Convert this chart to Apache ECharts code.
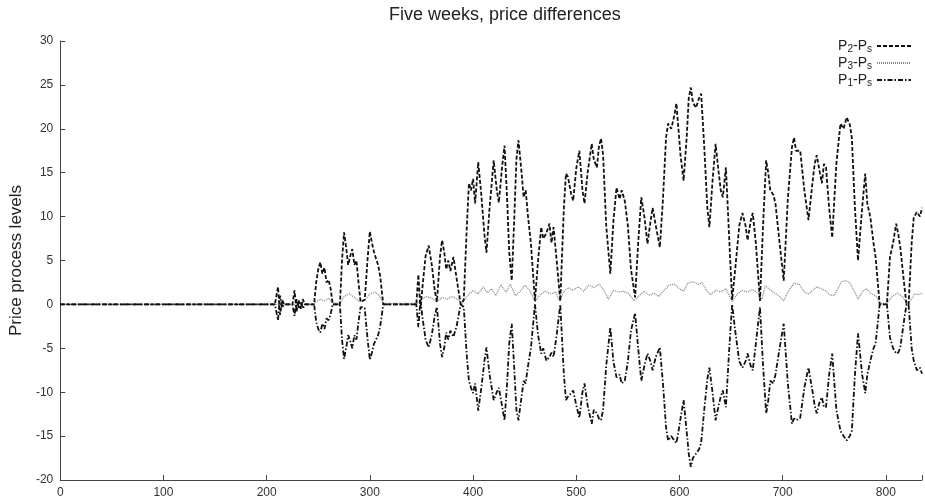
<!DOCTYPE html>
<html>
<head>
<meta charset="utf-8">
<script src="https://cdn.jsdelivr.net/npm/echarts@6/dist/echarts.min.js"></script>
<style>html,body{margin:0;padding:0;background:#fff}#c{width:925px;height:501px}</style>
</head>
<body>
<div id="c"></div>
<script>
// ---- data ----
var titleText = 'Five weeks, price differences';
var yAxisName = 'Price process levels';
var seriesNames = ['P2-Ps', 'P3-Ps', 'P1-Ps'];
var xTicks = [0, 100, 200, 300, 400, 500, 600, 700, 800];

// shared x positions for P2-Ps and P1-Ps
var xsMain = [0,208,211,213,215,217,225,227,229,231,233,235,237,246,248,250,252,254,256,258,260,262,264,271,273,275,277,279,281,283,285,287,289,291,295,298,300,302,304,306,308,310,313,345,347,349,351,354,357,360,363,365,368,370,372,374,376,378,381,384,388,391,394,396,398,400,402,405,408,411,413,416,420,423,425,428,430.5,433,435,437.5,440,442,444,447,449,451,453,456,460,463,466,468,471,474,476,478,481,484.5,488,490,492,495,497,500,503,506,508,511,515,517,520,522,524,526,529,533,536,539,542,544,547,550,553,557,560,563,566,569,572,574,577,581,584,587,589,592,595,597,599,601,604,607,609,611,613,616,619,621,624,627,629,632,635,638,640,642,645,648,651,654,658,661,664,666,669,671,674,678,681,684,686,688,691,693,697,701,705,709,711,713,717,721,725,729,731,733,736,738,740,742,745,748,752,756,759,762,765,767,770,773,777,780,782,785,788,790,794,801,804,807,810,812,814,818,820,822,825,827,830,833,835];
var p2 = [0,0,2.0,-1.2,0.5,0,0,1.6,-0.8,0.5,-0.5,0.6,0,0,2.5,4.0,4.8,3.5,4.2,2.5,2.8,1.8,0,0,5.0,8.2,6.5,4.5,5.5,6.3,4.5,5.0,2.5,0.3,0.5,5.5,8.3,7.0,6.0,5.2,4.5,3.2,0,0,3.4,-0.5,2.0,5.5,6.7,4.5,1.5,0.3,5.5,7.3,6.0,4.0,5.0,3.8,5.4,3.0,0,0.5,9.0,13.8,13.0,14.3,11.5,16.2,12.5,8.0,5.9,11.0,16.4,13.0,11.6,15.5,18.1,12.0,6.0,2.7,10.0,16.5,18.7,15.0,12.2,13.0,10.3,7.0,0.4,5.0,8.8,7.5,8.1,9.2,7.0,8.8,5.0,0.4,11.0,14.9,14.5,12.6,11.8,15.5,17.5,13.0,11.5,15.0,18.3,16.5,15.6,18.0,18.9,17.0,9.0,3.5,9.5,13.3,12.0,13.0,11.8,9.0,4.0,0.8,7.0,12.2,10.0,6.9,9.5,11.0,9.0,6.5,12.0,19.0,20.6,20.0,21.5,22.9,20.0,17.0,14.1,19.0,23.5,24.7,23.0,22.4,23.5,24.0,18.0,11.0,8.8,14.0,18.3,15.0,13.0,12.2,15.6,8.0,0.5,4.0,9.0,10.4,9.0,7.3,9.5,10.4,7.0,0.4,9.0,16.4,15.0,13.0,12.5,11.5,7.0,2.7,12.0,17.9,19.0,17.5,17.5,13.0,9.6,14.0,16.0,17.0,15.0,13.8,16.0,15.6,11.0,7.6,16.0,20.6,20.0,21.3,20.5,19.0,11.0,5.0,11.0,14.9,11.5,9.9,7.0,5.4,0,0,5.4,7.0,9.2,8.0,6.5,2.0,0,0,7.0,9.9,10.5,10.0,11.0];
var p1 = [0,0,-1.8,1.0,-0.4,0,0,-1.3,0.6,-0.4,0.3,-0.5,0,0,-2.0,-2.8,-3.2,-2.2,-2.8,-1.6,-1.8,-1.1,0,0,-4.0,-6.2,-5.0,-3.5,-4.2,-5.0,-3.5,-4.0,-2.0,-0.3,-0.4,-4.2,-6.3,-5.5,-4.5,-4.0,-3.5,-2.5,0,0,-2.6,0.5,-1.5,-4.0,-4.9,-3.5,-1.2,-0.3,-4.5,-6.0,-5.0,-3.2,-4.0,-3.0,-3.7,-2.5,0,-0.3,-6.0,-8.7,-9.5,-10.1,-9.0,-12.1,-9.5,-6.5,-4.9,-8.0,-10.9,-10.0,-9.5,-11.5,-13.2,-9.0,-4.5,-2.2,-7.5,-12.0,-13.2,-10.5,-8.7,-9.0,-7.2,-5.0,0,-3.5,-5.6,-5.0,-6.4,-6.0,-5.5,-6.0,-3.5,0,-8.0,-10.9,-10.5,-10.1,-9.8,-11.5,-12.9,-10.0,-9.0,-11.5,-13.6,-12.0,-12.4,-13.0,-13.2,-12.0,-7.0,-2.6,-6.5,-8.3,-8.0,-9.0,-8.7,-6.5,-3.0,-1.0,-5.0,-8.7,-7.0,-5.6,-6.5,-7.5,-6.0,-4.9,-9.0,-14.0,-15.5,-15.0,-15.5,-15.8,-14.5,-13.0,-10.9,-14.5,-17.0,-18.5,-17.5,-17.0,-16.5,-15.8,-12.0,-8.5,-7.2,-10.0,-13.2,-11.5,-10.5,-9.8,-11.7,-5.5,0,-3.0,-6.5,-7.2,-6.5,-5.6,-7.0,-7.5,-4.5,-0.3,-7.0,-12.4,-11.0,-8.7,-9.0,-8.0,-5.0,-2.2,-9.0,-13.6,-13.0,-13.2,-12.9,-9.5,-7.2,-10.0,-11.5,-12.4,-11.0,-10.6,-11.7,-11.7,-8.0,-5.6,-12.0,-14.4,-15.0,-15.5,-15.0,-14.4,-8.0,-3.3,-8.0,-10.1,-8.0,-6.4,-5.0,-4.5,0,0,-3.8,-5.0,-5.6,-5.5,-4.9,-1.5,0,0,-5.0,-6.4,-7.5,-7.2,-7.9];

// x positions and values for P3-Ps
var xsP3 = [0,245,248,252,256,260,264,271,275,280,285,290,296,300,305,310,313,345,350,355,360,365,370,375,380,385,389,395,400,405,410,414,418,422,427,432,436,441,446,450,455,460,465,470,475,480,484,488,492,497,502,507,512,517,522,527,531,536,541,546,551,556,561,566,571,575,580,585,590,595,600,604,608,613,618,622,626,630,635,640,645,651,656,661,666,671,676,680,683,690,696,701,706,711,716,721,725,733,741,746,750,757,761,765,769,773,777,781,786,791,794,801,806,811,816,820,823,828,832,835];
var p3 = [0,0,0.3,0.6,0.4,0.7,0.2,0.1,0.9,1.2,0.8,0.3,0.6,1.2,1.4,0.9,0.1,0.1,0.6,0.9,0.7,0.3,0.8,0.6,0.9,0.6,0.1,1.0,1.6,1.2,2.0,1.3,1.8,1.0,2.2,1.4,2.3,1.0,1.5,2.2,1.6,0.3,1.1,1.5,1.2,1.4,0.4,1.5,1.9,1.6,2.0,1.5,2.2,1.9,2.3,1.6,0.6,1.6,1.4,1.5,1.2,0.4,1.0,1.5,1.0,1.3,0.9,1.6,2.2,2.3,1.8,1.5,2.4,2.6,2.3,2.5,1.6,1.1,1.6,1.4,1.8,0.3,1.2,1.6,1.4,1.7,1.3,0.6,2.1,1.5,1.0,0.4,1.6,2.4,2.3,1.4,1.2,2.0,1.6,1.1,1.0,2.6,2.7,2.5,1.6,0.6,1.4,1.8,1.2,0.9,0.1,0.1,0.9,1.3,0.9,0.2,0.3,1.2,1.1,1.3];

function pairs(xs, ys) { var o = []; for (var i = 0; i < xs.length; i++) o.push([xs[i], ys[i]]); return o; }

var chart = echarts.init(document.getElementById('c'), null, { renderer: 'canvas' });
var font = 'Liberation Sans, Arial, sans-serif';
var legendRich = {
  m: { fontSize: 14, fontFamily: font, color: '#222', lineHeight: 12 },
  s: { fontSize: 10, fontFamily: font, color: '#222', padding: [6, 0, 0, 0], lineHeight: 12 }
};
function legendFmt(name) {
  var p = name.split('-');
  return '{m|P}{s|' + p[0].slice(1) + '}{m|-P}{s|' + p[1].slice(1) + '}';
}
chart.setOption({
  animation: false,
  backgroundColor: '#fff',
  title: {
    text: titleText, left: 384, top: 1,
    textStyle: { fontSize: 18, fontWeight: 'normal', color: '#222', fontFamily: font }
  },
  legend: {
    orient: 'vertical', right: 8, top: 33, align: 'right',
    itemWidth: 34, itemHeight: 11, itemGap: 1,
    formatter: legendFmt,
    itemStyle: { opacity: 0 },
    textStyle: { rich: legendRich },
    data: seriesNames
  },
  grid: { left: 60, right: 0, top: 41, bottom: 21 },
  xAxis: {
    type: 'value', min: 0, max: 835, interval: 100,
    axisLine: { show: true, onZero: false, lineStyle: { color: '#444', width: 1 } },
    axisTick: { show: true, inside: true, length: 5, lineStyle: { color: '#444' } },
    axisLabel: {
      fontSize: 12, color: '#333', fontFamily: font, margin: 7,
      formatter: function (v) { return xTicks.indexOf(v) >= 0 ? String(v) : ''; }
    },
    splitLine: { show: false }
  },
  yAxis: {
    type: 'value', min: -20, max: 30, interval: 5,
    name: yAxisName, nameLocation: 'middle', nameGap: 30, nameRotate: 90,
    nameTextStyle: { fontSize: 17, color: '#222', fontFamily: font },
    axisLine: { show: true, onZero: false, lineStyle: { color: '#444', width: 1 } },
    axisTick: { show: true, inside: true, length: 5, lineStyle: { color: '#444' } },
    axisLabel: { fontSize: 12, color: '#333', fontFamily: font, margin: 7 },
    splitLine: { show: false }
  },
  series: [
    {
      name: seriesNames[0], type: 'line', data: pairs(xsMain, p2), symbol: 'none', z: 3,
      lineStyle: { color: '#111', width: 1.8, type: [4, 2] }, itemStyle: { color: '#111' }
    },
    {
      name: seriesNames[1], type: 'line', data: pairs(xsP3, p3), symbol: 'none', z: 2,
      lineStyle: { color: '#888', width: 1.3, type: [1, 1] }, itemStyle: { color: '#888' }
    },
    {
      name: seriesNames[2], type: 'line', data: pairs(xsMain, p1), symbol: 'none', z: 3,
      lineStyle: { color: '#111', width: 1.8, type: [5, 2, 1.5, 2] }, itemStyle: { color: '#111' }
    }
  ]
});
</script>
</body>
</html>
